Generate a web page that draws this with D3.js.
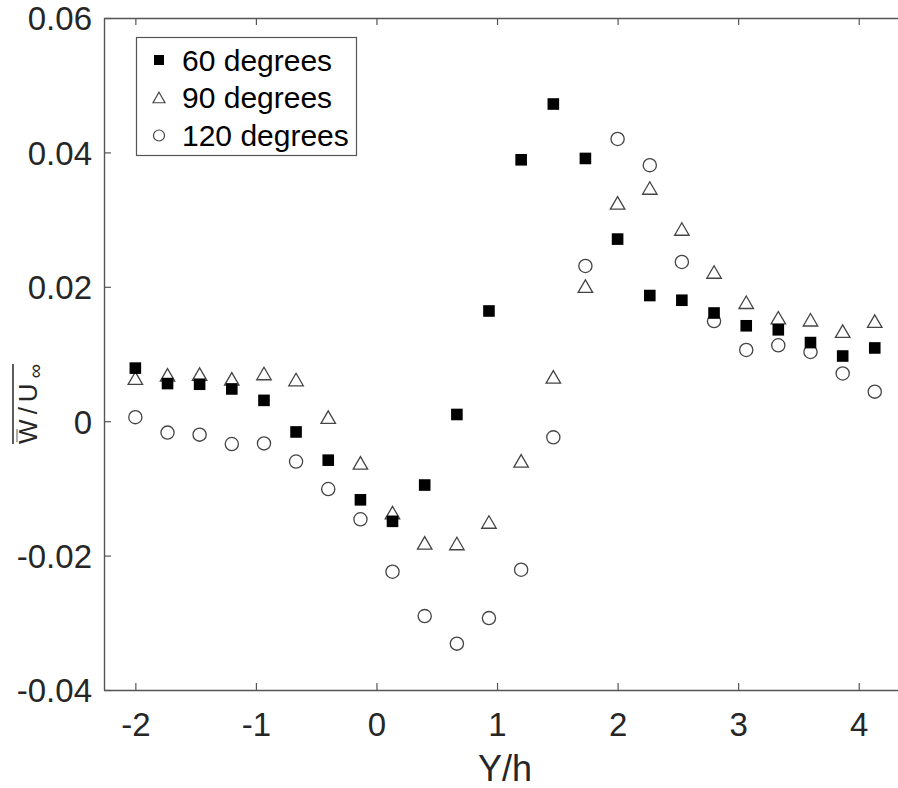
<!DOCTYPE html>
<html>
<head>
<meta charset="utf-8">
<script src="https://cdn.jsdelivr.net/npm/d3@7"></script>
<style>
    body { margin: 0; background: #fff; }
    svg { display: block; font-family: "Liberation Sans", Arial, Helvetica, sans-serif; }
    .axis text { fill: #262626; }
    .axis path, .axis line { stroke: #555; }
</style>
</head>
<body>
<svg></svg>
<script>
// Y/h positions (shared by all three series)
var positions = [-2, -1.733, -1.467, -1.2, -0.933, -0.667, -0.4, -0.133, 0.133, 0.4,
    0.667, 0.933, 1.2, 1.467, 1.733, 2.0, 2.267, 2.533, 2.8, 3.067, 3.333, 3.6, 3.867, 4.133];

var deg60 = [0.0079, 0.0056, 0.0055, 0.0048, 0.0031, -0.0016, -0.0058, -0.0117, -0.0149, -0.0095,
    0.0010, 0.0164, 0.0389, 0.0472, 0.0391, 0.0271, 0.0187, 0.0180, 0.0161, 0.0142, 0.0136, 0.0117, 0.0097, 0.0109];

var deg90 = [0.0064, 0.0069, 0.0070, 0.0063, 0.0071, 0.0062, 0.0006, -0.0062, -0.0136, -0.0181,
    -0.0182, -0.0150, -0.0059, 0.0066, 0.0201, 0.0325, 0.0347, 0.0286, 0.0222, 0.0177, 0.0154, 0.0151, 0.0134, 0.0149];

var deg120 = [0.0006, -0.0017, -0.0020, -0.0034, -0.0033, -0.0060, -0.0101, -0.0146, -0.0224, -0.0290,
    -0.0331, -0.0293, -0.0221, -0.0024, 0.0231, 0.0420, 0.0381, 0.0237, 0.0149, 0.0106, 0.0113, 0.0103, 0.0071, 0.0044];

var seriesNames = ['60 degrees', '90 degrees', '120 degrees'];
var xTicks = [-2, -1, 0, 1, 2, 3, 4];
var yTicks = [-0.04, -0.02, 0, 0.02, 0.04, 0.06];
var yTickLabels = ['-0.04', '-0.02', '0', '0.02', '0.04', '0.06'];

//==========================================================================
// Layout

var W = 898, H = 788;
var margin = {left: 104, top: 18, bottom: 690, right: 919};

var svg = d3.select('svg')
    .attr('width', W)
    .attr('height', H)
    .style('overflow', 'hidden')
;

var xScale = d3.scaleLinear().domain([-2.26, 4.5]).range([margin.left, margin.right]);
var yScale = d3.scaleLinear().domain([-0.04, 0.06]).range([margin.bottom, margin.top]);

// Axes with inward ticks
var xAxis = svg.append('g')
    .attr('class', 'axis')
    .attr('transform', 'translate(0,' + margin.bottom + ')')
    .call(d3.axisBottom(xScale).tickValues(xTicks).tickSizeInner(-7).tickSizeOuter(0)
        .tickPadding(23).tickFormat(function(d) { return String(d); }))
;
xAxis.selectAll('text').style('font-size', '33px');

var xAxisTop = svg.append('g')
    .attr('class', 'axis')
    .attr('transform', 'translate(0,' + margin.top + ')')
    .call(d3.axisTop(xScale).tickValues(xTicks).tickSizeInner(-7).tickSizeOuter(0).tickFormat(''))
;

var yAxis = svg.append('g')
    .attr('class', 'axis')
    .attr('transform', 'translate(' + margin.left + ',0)')
    .call(d3.axisLeft(yScale).tickValues(yTicks).tickSizeInner(-7).tickSizeOuter(0)
        .tickPadding(12).tickFormat(function(d, i) { return yTickLabels[i]; }))
;
yAxis.selectAll('text').style('font-size', '33px').attr('dy', '0.36em');

svg.selectAll('.axis path.domain').style('stroke-width', 1.4);
svg.selectAll('.axis line').style('stroke-width', 1.2);

//==========================================================================
// Markers

function trianglePath(w, h) {
    return 'M0,' + (-h / 2) + 'L' + (w / 2) + ',' + (h / 2) + 'L' + (-w / 2) + ',' + (h / 2) + 'Z';
}

var points = function(values) {
    return positions.map(function(p, i) { return {x: p, y: values[i]}; });
};

var plot = svg.append('g');

plot.selectAll('.tri')
    .data(points(deg90))
    .enter()
    .append('path')
    .attr('class', 'tri')
    .attr('transform', function(d) { return 'translate(' + xScale(d.x) + ',' + yScale(d.y) + ')'; })
    .attr('d', trianglePath(14.5, 12.5))
    .style('fill', 'none')
    .style('stroke', '#444')
    .style('stroke-width', 1.3)
;

plot.selectAll('.circ')
    .data(points(deg120))
    .enter()
    .append('circle')
    .attr('class', 'circ')
    .attr('cx', function(d) { return xScale(d.x); })
    .attr('cy', function(d) { return yScale(d.y); })
    .attr('r', 6.6)
    .style('fill', 'none')
    .style('stroke', '#444')
    .style('stroke-width', 1.3)
;

plot.selectAll('.sq')
    .data(points(deg60))
    .enter()
    .append('rect')
    .attr('class', 'sq')
    .attr('x', function(d) { return xScale(d.x) - 5.8; })
    .attr('y', function(d) { return yScale(d.y) - 5.8; })
    .attr('width', 11.6)
    .attr('height', 11.6)
    .style('fill', '#000')
;

//==========================================================================
// Legend

var legend = svg.append('g');
legend.append('rect')
    .attr('x', 136.5).attr('y', 37.5)
    .attr('width', 220).attr('height', 118)
    .style('fill', '#fff')
    .style('stroke', '#555')
    .style('stroke-width', 1.2)
;

var rowY = [60, 97.5, 135.5];
var rows = legend.selectAll('.legend-row')
    .data(seriesNames)
    .enter()
    .append('g')
    .attr('transform', function(d, i) { return 'translate(159,' + rowY[i] + ')'; })
;

rows.append('text')
    .attr('x', 23)
    .attr('dy', '0.36em')
    .style('font-size', '30px')
    .style('fill', '#000')
    .text(function(d) { return d; })
;

rows.filter(function(d, i) { return i === 0; }).append('rect')
    .attr('x', -5).attr('y', -5).attr('width', 10).attr('height', 10)
    .style('fill', '#000');
rows.filter(function(d, i) { return i === 1; }).append('path')
    .attr('d', trianglePath(12, 10.5))
    .style('fill', 'none').style('stroke', '#444').style('stroke-width', 1.2);
rows.filter(function(d, i) { return i === 2; }).append('circle')
    .attr('r', 5.5)
    .style('fill', 'none').style('stroke', '#444').style('stroke-width', 1.2);

//==========================================================================
// Axis labels

svg.append('text')
    .attr('x', 505)
    .attr('y', 781)
    .attr('text-anchor', 'middle')
    .style('font-size', '36px')
    .style('fill', '#262626')
    .text('Y/h')
;

var yLabel = svg.append('g')
    .attr('transform', 'translate(37,404) rotate(-90)')
;
var yText = yLabel.append('text')
    .attr('text-anchor', 'middle')
    .style('font-size', '26px')
    .style('letter-spacing', '5px')
    .style('fill', '#262626')
;
yText.append('tspan').text('W/U');
yText.append('tspan').attr('dy', 5).style('font-size', '20px').style('letter-spacing', '0px').text('\u221e');

var bb = yText.node().getBBox();
yLabel.append('line')
    .attr('x1', bb.x).attr('x2', bb.x + bb.width)
    .attr('y1', -24).attr('y2', -24)
    .style('stroke', '#262626').style('stroke-width', 1.5)
;
yLabel.append('line')
    .attr('x1', bb.x + 2).attr('x2', bb.x + 15)
    .attr('y1', -20).attr('y2', -20)
    .style('stroke', '#777').style('stroke-width', 1.2)
;
</script>
</body>
</html>
